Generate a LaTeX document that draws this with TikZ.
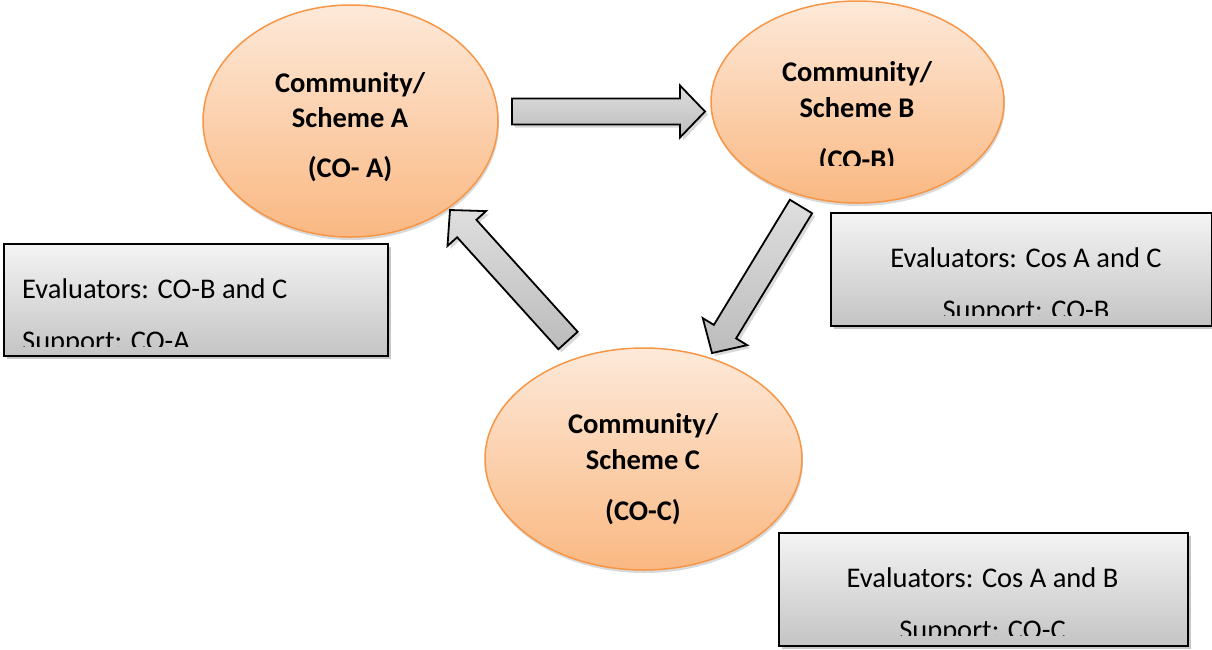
\documentclass[tikz,border=0pt]{standalone}
\usepackage{fontspec}
\setmainfont{Carlito}
\usetikzlibrary{shapes.geometric,calc,shadows}

\definecolor{orline}{RGB}{247,150,70}
\definecolor{ortop}{RGB}{253,233,217}
\definecolor{orbot}{RGB}{250,184,130}
\definecolor{boxtop}{RGB}{244,244,244}
\definecolor{boxbot}{RGB}{196,196,196}
\definecolor{arrtop}{RGB}{222,222,222}
\definecolor{arrbot}{RGB}{188,188,188}

\tikzset{
  scheme/.style={ellipse, draw=orline, line width=1.5pt, top color=ortop, bottom color=orbot,
    drop shadow={shadow xshift=1pt, shadow yshift=-3pt, opacity=.3}},
  infobox/.style={rectangle, draw=black, line width=1.6pt, top color=boxtop, bottom color=boxbot,
    drop shadow={shadow xshift=3pt, shadow yshift=-3pt, opacity=.45}},
  blockarr/.style={draw=black, line width=1.8pt, line join=miter, top color=arrtop, bottom color=arrbot,
    drop shadow={shadow xshift=3pt, shadow yshift=-3pt, opacity=.3}},
  cotext/.style={font=\fontsize{28.5}{34}\selectfont\bfseries, anchor=base, inner sep=0pt},
  evtext/.style={font=\fontsize{28.5}{34}\selectfont, anchor=base, inner sep=0pt},
}

% block arrow from tail coordinate #1 to tip coordinate #2
\newcommand\blockarrow[2]{%
  \coordinate (#2-base) at ($(#2)!25pt!(#1)$);
  \draw[blockarr] ($(#1)!13pt!90:(#2)$) -- ($(#2-base)!13pt!-90:(#1)$)
    -- ($(#2-base)!26pt!-90:(#1)$) -- (#2) -- ($(#2-base)!26pt!90:(#1)$)
    -- ($(#2-base)!13pt!90:(#1)$) -- ($(#1)!13pt!-90:(#2)$) -- cycle;}

\begin{document}
\begin{tikzpicture}[x=1pt,y=-1pt]
  \useasboundingbox (0,0) rectangle (1212,649);

  % the three schemes
  \node[scheme, minimum width=295, minimum height=232] (coA) at (350.5,121) {};
  \node[scheme, minimum width=293, minimum height=202] (coB) at (857.5,102) {};
  \node[scheme, minimum width=317, minimum height=222] (coC) at (643.5,459) {};

  \node[cotext] (a1) at (350,92) {Community/};
  \node[cotext] (a2) at (350,127) {Scheme A};
  \node[cotext] (a3) at (350,177) {(CO- A)};

  \node[cotext] (b1) at (857,81) {Community/};
  \node[cotext] (b2) at (857,117) {Scheme B};
  \begin{scope}
    \clip (700,0) rectangle (1010,165);
    \node[cotext] (b3) at (857,169) {(CO-B)};
  \end{scope}

  \node[cotext] (c1) at (643,433) {Community/};
  \node[cotext] (c2) at (643,469) {Scheme C};
  \node[cotext] (c3) at (643,520) {(CO-C)};

  % evaluator boxes
  \node[infobox, anchor=north west, minimum width=384, minimum height=112] (boxA) at (3,243) {};
  \node[infobox, anchor=north west, minimum width=381, minimum height=113] (boxB) at (830,212) {};
  \node[infobox, anchor=north west, minimum width=409, minimum height=113] (boxC) at (778,532) {};

  \node[evtext, anchor=base west] (evA) at (22,298) {Evaluators: CO-B and C};
  \begin{scope}
    \clip (3,243) rectangle (387,346);
    \node[evtext, anchor=base west] (suA) at (22,350) {Support: CO-A};
  \end{scope}

  \node[evtext] (evB) at (1026,267) {Evaluators: Cos A and C};
  \begin{scope}
    \clip (830,212) rectangle (1211,315);
    \node[evtext] (suB) at (1026,319) {Support: CO-B};
  \end{scope}

  \node[evtext] (evC) at (982.5,587) {Evaluators: Cos A and B};
  \begin{scope}
    \clip (778,532) rectangle (1187,635);
    \node[evtext] (suC) at (982.5,639) {Support: CO-C};
  \end{scope}

  % arrows between schemes
  \coordinate (ab1) at (512,111.5);
  \coordinate (ab2) at (705,111.5);
  \coordinate (bc1) at (801,206.5);
  \coordinate (bc2) at (712,353);
  \coordinate (ca1) at (568,340.5);
  \coordinate (ca2) at (450,210);
  \blockarrow{ab1}{ab2}
  \blockarrow{bc1}{bc2}
  \blockarrow{ca1}{ca2}
\end{tikzpicture}
\end{document}
